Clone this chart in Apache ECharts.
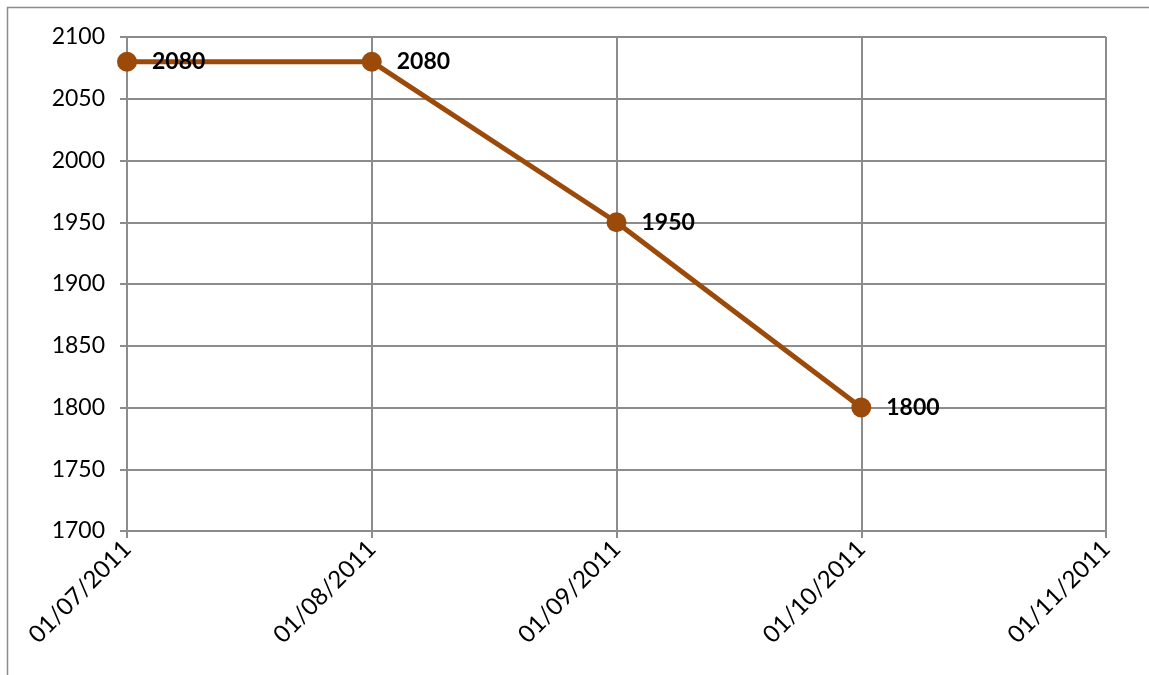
<!DOCTYPE html>
<html>
<head>
<meta charset="utf-8">
<script src="https://cdn.jsdelivr.net/npm/echarts@6/dist/echarts.min.js"></script>
<style>html,body{margin:0;padding:0;background:#fff}#c{width:1149px;height:675px}</style>
</head>
<body>
<div id="c"></div>
<script>
var categories = ['01/07/2011', '01/08/2011', '01/09/2011', '01/10/2011', '01/11/2011'];
var values = [2080, 2080, 1950, 1800, null];
var yMin = 1700, yMax = 2100, yStep = 50;

var chart = echarts.init(document.getElementById('c'));
var font = 'Lato, "Open Sans", sans-serif';
chart.setOption({
  animation: false,
  graphic: [{
    type: 'rect', shape: {x: 7.5, y: 7.5, width: 1160, height: 700},
    style: {fill: 'none', stroke: '#8c8c8c', lineWidth: 1.5}
  }],
  grid: {left: 127, right: 43, top: 37, bottom: 144},
  xAxis: {
    type: 'category', data: categories, boundaryGap: false,
    axisLine: {lineStyle: {color: '#8c8c8c', width: 2}},
    axisTick: {show: true, length: 7, alignWithLabel: true, lineStyle: {color: '#8c8c8c', width: 2}},
    splitLine: {show: true, lineStyle: {color: '#8c8c8c', width: 2}},
    axisLabel: {rotate: 45, color: '#000', fontSize: 24, fontFamily: font, margin: 14, interval: 0}
  },
  yAxis: {
    type: 'value', min: yMin, max: yMax, interval: yStep,
    axisLine: {show: true, lineStyle: {color: '#8c8c8c', width: 2}},
    axisTick: {show: true, length: 7, lineStyle: {color: '#8c8c8c', width: 2}},
    splitLine: {show: true, lineStyle: {color: '#8c8c8c', width: 2}},
    axisLabel: {color: '#000', fontSize: 23, fontFamily: font, margin: 22, formatter: function (v) { return String(v); }}
  },
  series: [{
    type: 'line', data: values,
    lineStyle: {color: '#9c4a09', width: 5},
    itemStyle: {color: '#9c4a09'},
    symbol: 'circle', symbolSize: 20,
    label: {show: true, position: 'right', distance: 15, color: '#000', fontWeight: 'bold', fontSize: 23, fontFamily: font}
  }]
});
</script>
</body>
</html>
